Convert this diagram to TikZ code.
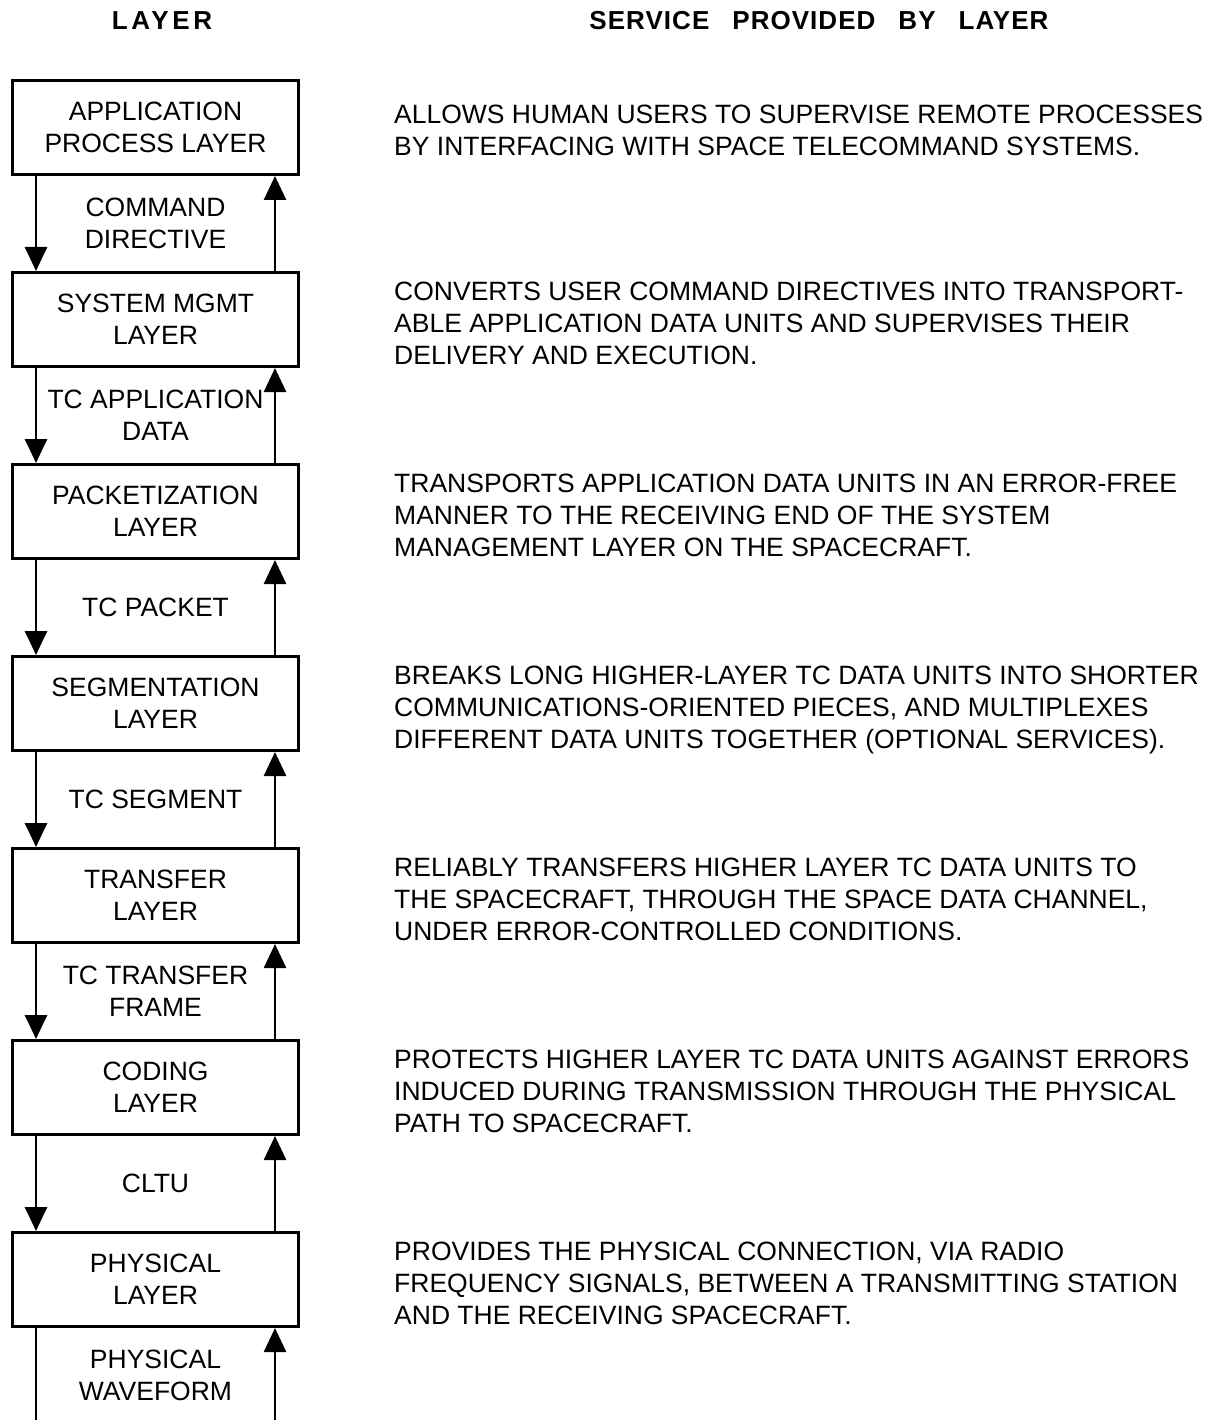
\documentclass[tikz,border=0pt]{standalone}
\usepackage{fontspec}
\setmainfont{Liberation Sans}
\usetikzlibrary{arrows.meta}

\newcommand{\bodyfont}{\fontsize{26.5}{31.8}\selectfont}
\newcommand{\headfont}{\fontsize{26}{31}\selectfont\bfseries}

\begin{document}
\begin{tikzpicture}[x=1pt, y=-1pt,
  layerbox/.style={draw, line width=3pt, minimum width=286pt, minimum height=94pt,
    inner sep=0pt, align=center, font=\bodyfont,
    execute at begin node={\rule{0pt}{24pt}}},
  pdu/.style={inner sep=0pt, align=center, font=\bodyfont},
  service/.style={anchor=north west, inner sep=0pt, align=left, font=\bodyfont},
  heading/.style={anchor=base, inner sep=0pt, font=\headfont},
  flow/.style={line width=2.7pt, -{Triangle[length=24pt, width=22pt]}},
  plain/.style={line width=2.7pt},
]
\useasboundingbox (0,0) rectangle (1216,1420);

% column headings
\node[heading] (hl) at (162,30) {\addfontfeature{LetterSpace=14}LAYER};
\node[heading] (hr) at (819,30) {\addfontfeature{LetterSpace=4}SERVICE\hspace{23pt}PROVIDED\hspace{23pt}BY\hspace{23pt}LAYER};

% protocol layers
\node[layerbox] (b1) at (155.5,127.5)  {APPLICATION\\PROCESS LAYER};
\node[layerbox] (b2) at (155.5,319.5)  {SYSTEM MGMT\\LAYER};
\node[layerbox] (b3) at (155.5,511.5)  {PACKETIZATION\\LAYER};
\node[layerbox] (b4) at (155.5,703.5)  {SEGMENTATION\\LAYER};
\node[layerbox] (b5) at (155.5,895.5)  {TRANSFER\\LAYER};
\node[layerbox] (b6) at (155.5,1087.5) {CODING\\LAYER};
\node[layerbox] (b7) at (155.5,1279.5) {PHYSICAL\\LAYER};

% data units passed between layers
\node[pdu] (p1) at (155.5,223)  {COMMAND\\DIRECTIVE};
\node[pdu] (p2) at (155.5,415)  {TC APPLICATION\\DATA};
\node[pdu] (p3) at (155.5,607)  {TC PACKET};
\node[pdu] (p4) at (155.5,799)  {TC SEGMENT};
\node[pdu] (p5) at (155.5,991)  {TC TRANSFER\\FRAME};
\node[pdu] (p6) at (155.5,1183) {CLTU};
\node[pdu] (p7) at (155.5,1375) {PHYSICAL\\WAVEFORM};

% downward and upward flows
\foreach \a/\b in {b1/b2, b2/b3, b3/b4, b4/b5, b5/b6, b6/b7} {
  \draw[flow] ([xshift=-119.5pt]\a.south) -- ([xshift=-119.5pt]\b.north);
  \draw[flow] ([xshift=119.5pt]\b.north) -- ([xshift=119.5pt]\a.south);
}
\coordinate (endL) at (36,1420);
\coordinate (endR) at (275,1420);
\draw[plain] ([xshift=-119.5pt]b7.south) -- (endL);
\draw[flow] (endR) -- ([xshift=119.5pt]b7.south);

% services
\node[service] (s1) at (394,105) {ALLOWS HUMAN USERS TO SUPERVISE REMOTE PROCESSES\\BY INTERFACING WITH SPACE TELECOMMAND SYSTEMS.};
\node[service] (s2) at (394,282) {CONVERTS USER COMMAND DIRECTIVES INTO TRANSPORT-\\ABLE APPLICATION DATA UNITS AND SUPERVISES THEIR\\DELIVERY AND EXECUTION.};
\node[service] (s3) at (394,474) {TRANSPORTS APPLICATION DATA UNITS IN AN ERROR-FREE\\MANNER TO THE RECEIVING END OF THE SYSTEM\\MANAGEMENT LAYER ON THE SPACECRAFT.};
\node[service] (s4) at (394,666) {BREAKS LONG HIGHER-LAYER TC DATA UNITS INTO SHORTER\\COMMUNICATIONS-ORIENTED PIECES, AND MULTIPLEXES\\DIFFERENT DATA UNITS TOGETHER (OPTIONAL SERVICES).};
\node[service] (s5) at (394,858) {RELIABLY TRANSFERS HIGHER LAYER TC DATA UNITS TO\\THE SPACECRAFT, THROUGH THE SPACE DATA CHANNEL,\\UNDER ERROR-CONTROLLED CONDITIONS.};
\node[service] (s6) at (394,1050) {PROTECTS HIGHER LAYER TC DATA UNITS AGAINST ERRORS\\INDUCED DURING TRANSMISSION THROUGH THE PHYSICAL\\PATH TO SPACECRAFT.};
\node[service] (s7) at (394,1242) {PROVIDES THE PHYSICAL CONNECTION, VIA RADIO\\FREQUENCY SIGNALS, BETWEEN A TRANSMITTING STATION\\AND THE RECEIVING SPACECRAFT.};
\end{tikzpicture}
\end{document}
